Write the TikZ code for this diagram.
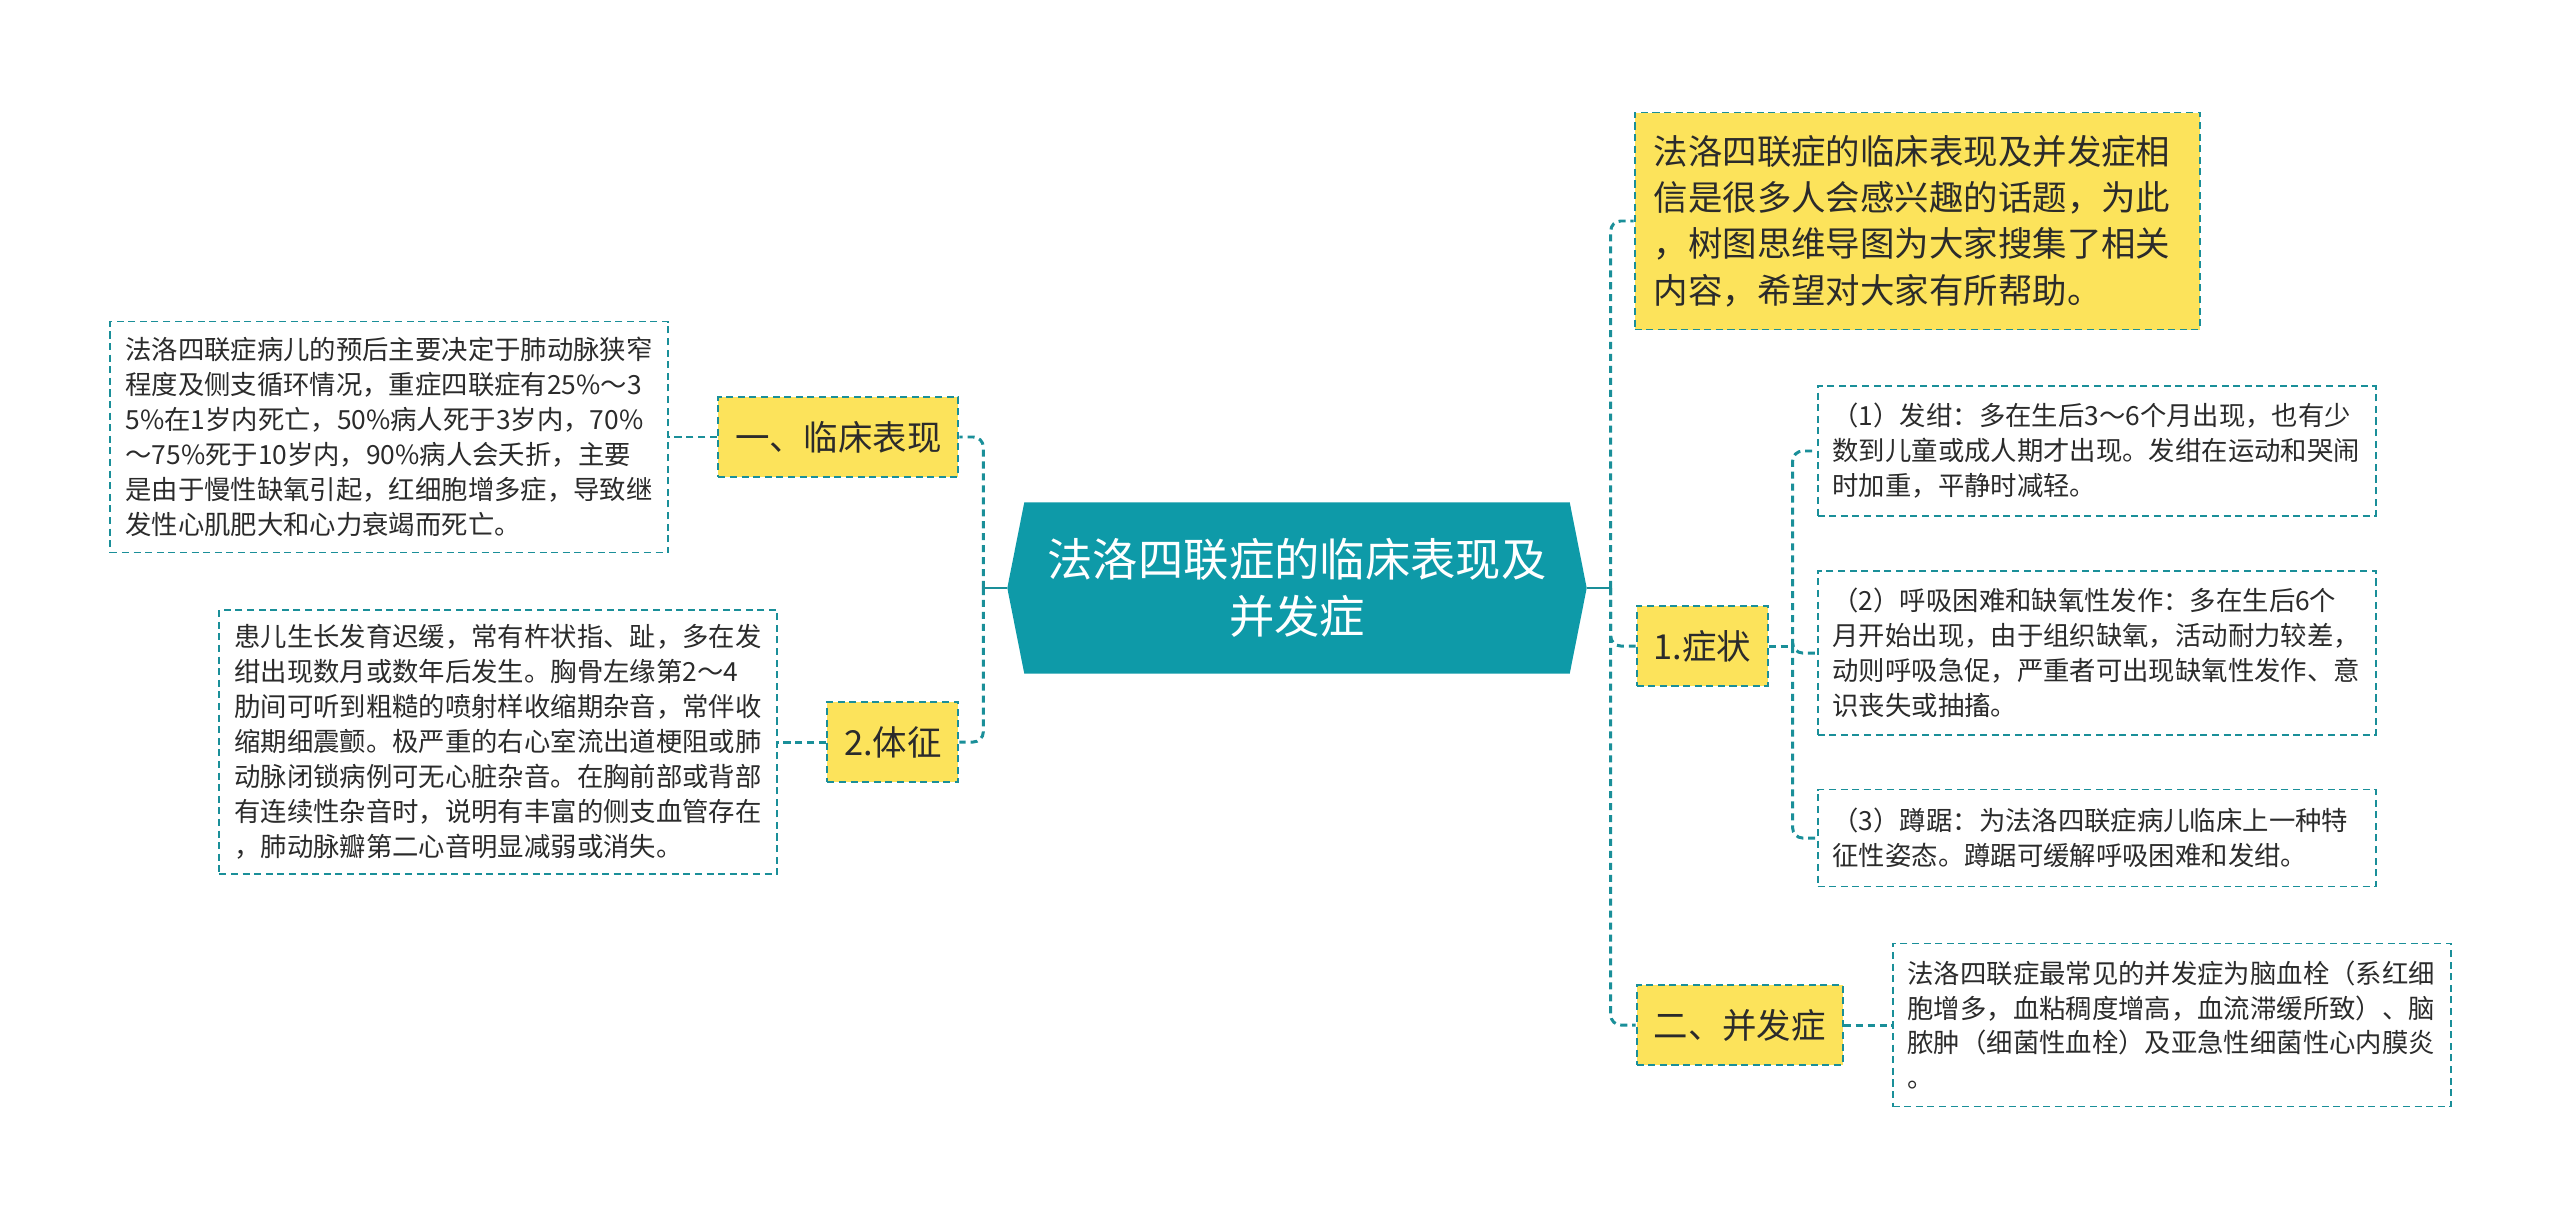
\documentclass[tikz,border=0pt]{standalone}
\usepackage{fontspec}
\setmainfont{Noto Sans CJK SC}
\usepackage{tikz}
\usetikzlibrary{positioning,backgrounds,calc}
\definecolor{tealhub}{HTML}{0E9AA8}
\definecolor{tealline}{HTML}{1A8F99}
\definecolor{tagyellow}{HTML}{FCE35B}
\definecolor{ink}{HTML}{2B2B2B}

\begin{document}
\begin{tikzpicture}[node distance=4.8mm and 4.8mm,
  leaf/.style={draw=tealline, line width=0.55pt, dash pattern=on 2pt off 1.3pt, fill=white, align=left, text=ink, font=\fontsize{7.5pt}{9.95pt}\selectfont, text width=5.28cm, inner xsep=1.5mm, inner ysep=0pt},
  tag/.style={draw=tealline, line width=0.55pt, dash pattern=on 2pt off 1.3pt, fill=tagyellow, align=center, text=ink, font=\fontsize{9.8pt}{13.2pt}\selectfont, minimum height=8mm, inner sep=0pt},
  link/.style={draw=tealline, line width=0.85pt, dash pattern=on 2pt off 1.4pt, rounded corners=1mm},
  stub/.style={draw=tealline, line width=0.6pt}]
  \useasboundingbox (0,0) rectangle (25.6,-12.21);
  % centre
  \node[font=\fontsize{12.9pt}{16.2pt}\selectfont, text=white, align=center, minimum width=5.44cm, minimum height=1.7cm, inner sep=0pt] (hub) at (12.97,-5.88) {法洛四联症的临床表现及\\并发症};
  \coordinate (hubL) at ([xshift=-1.7mm]hub.west);
  \coordinate (hubR) at ([xshift=1.7mm]hub.east);
  \begin{scope}[on background layer]
    \fill[tealhub] (hub.north west) -- (hub.north east) -- (hubR) -- (hub.south east) -- (hub.south west) -- (hubL) -- cycle;
  \end{scope}
  % left side
  \node[tag, minimum width=2.4cm, left=6.5mm of hub.west, yshift=15.1mm] (clin) {一、临床表现};
  \node[tag, minimum width=1.31cm, left=6.5mm of hub.west, yshift=-15.4mm] (sign) {2.体征};
  \node[leaf, minimum height=2.31cm, left=of clin] (clintxt) {法洛四联症病儿的预后主要决定于肺动脉狭窄\\程度及侧支循环情况，重症四联症有25\%～3\\5\%在1岁内死亡，50\%病人死于3岁内，70\%\\～75\%死于10岁内，90\%病人会夭折，主要\\是由于慢性缺氧引起，红细胞增多症，导致继\\发性心肌肥大和心力衰竭而死亡。};
  \node[leaf, minimum height=2.64cm, left=of sign] (signtxt) {患儿生长发育迟缓，常有杵状指、趾，多在发\\绀出现数月或数年后发生。胸骨左缘第2～4\\肋间可听到粗糙的喷射样收缩期杂音，常伴收\\缩期细震颤。极严重的右心室流出道梗阻或肺\\动脉闭锁病例可无心脏杂音。在胸前部或背部\\有连续性杂音时，说明有丰富的侧支血管存在\\，肺动脉瓣第二心音明显减弱或消失。};
  % right side
  \node[tag, align=left, text width=5.27cm, inner xsep=1.9mm, minimum height=2.17cm, right=6.4mm of hub.east, yshift=36.7mm] (intro) {法洛四联症的临床表现及并发症相\\信是很多人会感兴趣的话题，为此\\，树图思维导图为大家搜集了相关\\内容，希望对大家有所帮助。};
  \node[tag, minimum width=1.31cm, right=6.6mm of hub.east, yshift=-5.8mm] (sym) {1.症状};
  \node[tag, minimum width=2.06cm, right=6.6mm of hub.east, yshift=-43.7mm] (comp) {二、并发症};
  \node[leaf, minimum height=1.3cm, right=of sym, yshift=19.5mm] (sym1) {（1）发绀：多在生后3～6个月出现，也有少\\数到儿童或成人期才出现。发绀在运动和哭闹\\时加重，平静时减轻。};
  \node[leaf, minimum height=1.64cm, right=of sym, yshift=-0.7mm] (sym2) {（2）呼吸困难和缺氧性发作：多在生后6个\\月开始出现，由于组织缺氧，活动耐力较差，\\动则呼吸急促，严重者可出现缺氧性发作、意\\识丧失或抽搐。};
  \node[leaf, minimum height=0.97cm, right=of sym, yshift=-19.2mm] (sym3) {（3）蹲踞：为法洛四联症病儿临床上一种特\\征性姿态。蹲踞可缓解呼吸困难和发绀。};
  \node[leaf, minimum height=1.63cm, right=of comp] (comptxt) {法洛四联症最常见的并发症为脑血栓（系红细\\胞增多，血粘稠度增高，血流滞缓所致）、脑\\脓肿（细菌性血栓）及亚急性细菌性心内膜炎\\。};
  % connectors
  \coordinate (lspine) at ([xshift=-2.4mm]hubL);
  \coordinate (rspine) at ([xshift=2.4mm]hubR);
  \coordinate (sspine) at ([xshift=2.4mm]sym.east);
  \draw[stub] (hubL) -- (lspine); \draw[stub] (hubR) -- (rspine);
  \draw[link] (lspine) |- (clin.east); \draw[link] (lspine) |- (sign.east);
  \draw[link] (clin.west) -- (clintxt.east); \draw[link] (sign.west) -- (signtxt.east);
  \draw[link] (rspine) |- (intro.west); \draw[link] (rspine) |- (sym.west); \draw[link] (rspine) |- (comp.west);
  \draw[link] (sym.east) -- (sspine);
  \draw[link] (sspine) |- (sym1.west); \draw[link] (sspine) |- (sym2.west); \draw[link] (sspine) |- (sym3.west);
  \draw[link] (comp.east) -- (comptxt.west);
\end{tikzpicture}
\end{document}
